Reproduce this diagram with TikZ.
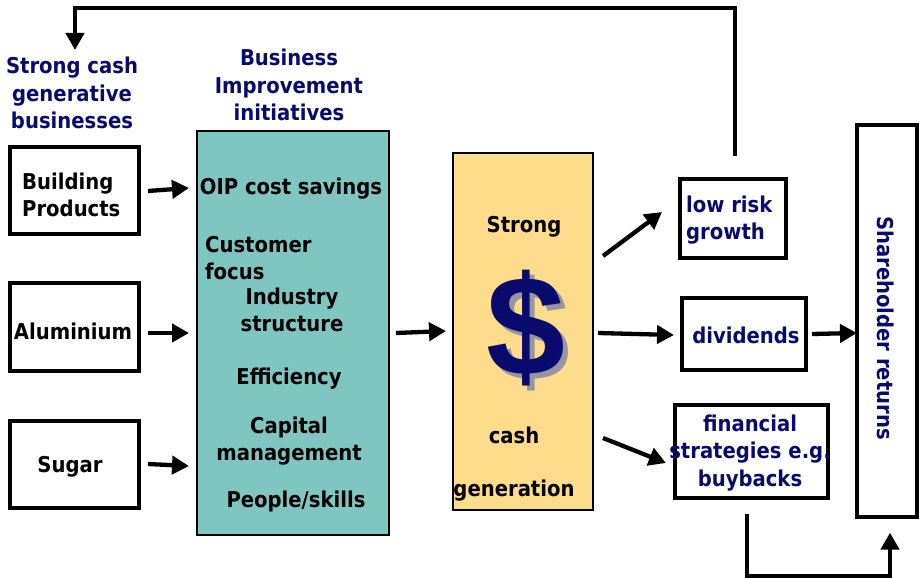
\documentclass[tikz,border=0pt]{standalone}
\usepackage{fontspec}
\setmainfont{DejaVu Sans Condensed}
\newfontfamily\dollarfont{Liberation Sans}
\usetikzlibrary{arrows.meta}
\definecolor{navyink}{RGB}{10,10,110}
\definecolor{tealfill}{RGB}{128,198,192}
\definecolor{cashfill}{RGB}{255,220,140}
\definecolor{dolshade}{RGB}{150,150,160}
\begin{document}
\begin{tikzpicture}[x=1pt,y=-1pt,
  box/.style={draw=black, line width=3.3pt, fill=white, inner sep=0pt},
  panel/.style={draw=black, line width=1.3pt, inner sep=0pt},
  lbl/.style={font=\bfseries\fontsize{21.8}{27.5}\selectfont, align=center, inner sep=0pt},
  lbll/.style={lbl, align=left},
  hd/.style={lbl, text=navyink},
  arr/.style={line width=4.3pt, -{Triangle[length=17pt,width=18pt]}},
]
\useasboundingbox (0,0) rectangle (919,578);

% headings
\node[hd] (scgb) at (72,93) {Strong cash\\generative\\businesses};
\node[hd] (bii) at (289,85) {Business\\Improvement\\initiatives};

% source businesses
\node[box, minimum width=129pt, minimum height=87pt] (bp) at (74.5,190.5) {};
\node[lbll, anchor=west] (bpt) at (22,195) {Building\\Products};
\node[box, minimum width=129pt, minimum height=88pt] (alu) at (74.5,327) {};
\node[lbl] (alut) at (73,331) {Aluminium};
\node[box, minimum width=129pt, minimum height=87pt] (sug) at (74.5,464.5) {};
\node[lbl] (sugt) at (70,467) {Sugar};

% improvement initiatives panel
\node[panel, fill=tealfill, minimum width=192pt, minimum height=404pt] (bip) at (293,333) {};
\node[lbl] (oip) at (291,189) {OIP cost savings};
\node[lbll, anchor=west] (cf) at (205,258) {Customer\\focus};
\node[lbl] (ind) at (292,310) {Industry\\structure};
\node[lbl] (eff) at (289,379) {Efficiency};
\node[lbl] (cap) at (289,441) {Capital\\management};
\node[lbl] (ppl) at (296,501) {People/skills};

% cash generation panel
\node[panel, fill=cashfill, minimum width=140pt, minimum height=357pt] (cash) at (523,331.5) {};
\node[lbl] (strong) at (524,227) {Strong};
% dollar sign with a drop shadow
\node[font=\dollarfont\bfseries\fontsize{142}{142}\selectfont, text=navyink, inner sep=0pt] (dol) at (526,331)
  {\makebox[0pt][l]{\hspace{5pt}\raisebox{-5pt}{\textcolor{dolshade}{\$}}}\$};
\node[lbl] (cashw) at (514,435) {cash};
\node[lbl] (gen) at (514,491) {generation};

% uses of cash
\node[box, minimum width=106pt, minimum height=79pt] (lrg) at (733,218.5) {};
\node[lbll, text=navyink, anchor=west] (lrgt) at (686,220) {low risk\\growth};
\node[box, minimum width=124pt, minimum height=72pt] (div) at (744,334) {};
\node[lbl, text=navyink] (divt) at (746,335) {dividends};
\node[box, minimum width=153pt, minimum height=93pt] (fin) at (751.5,451.5) {};
\node[lbl, text=navyink] (fint) at (750,453) {financial\\strategies e.g.\\buybacks};

% shareholder returns
\node[box, minimum width=60pt, minimum height=392pt] (sh) at (887,321) {};
\node[lbl, text=navyink, rotate=-90] (sht) at (886,328) {Shareholder returns};

% coordinates for the free arrow ends
\coordinate (a1s) at (148,191); \coordinate (a1e) at (189,188);
\coordinate (a2s) at (148,333); \coordinate (a2e) at (189,333);
\coordinate (a3s) at (148,464); \coordinate (a3e) at (189,466);
\coordinate (a4s) at (396,333); \coordinate (a4e) at (446,331);
\coordinate (a5s) at (603,256); \coordinate (a5e) at (662,212);
\coordinate (a6s) at (598,333); \coordinate (a6e) at (674,335);
\coordinate (a7s) at (603,438); \coordinate (a7e) at (666,463);
\coordinate (a8s) at (812,334); \coordinate (a8e) at (857,333);
\coordinate (topR) at (735,8);
\coordinate (topL) at (75,8);

% flow arrows
\draw[arr] (a1s) -- (a1e);
\draw[arr] (a2s) -- (a2e);
\draw[arr] (a3s) -- (a3e);
\draw[arr] (a4s) -- (a4e);
\draw[arr] (a5s) -- (a5e);
\draw[arr] (a6s) -- (a6e);
\draw[arr] (a7s) -- (a7e);
\draw[arr] (a8s) -- (a8e);

% reinvestment loop back to the businesses
\draw[arr] ([xshift=2pt,yshift=21pt]lrg.north) -- (topR) -- (topL) -- (75,50);
% buybacks feed shareholder returns
\draw[arr] ([xshift=-4.5pt,yshift=-14pt]fin.south) -- ++(0,62) -| ([xshift=3pt,yshift=-14pt]sh.south);
\end{tikzpicture}
\end{document}
